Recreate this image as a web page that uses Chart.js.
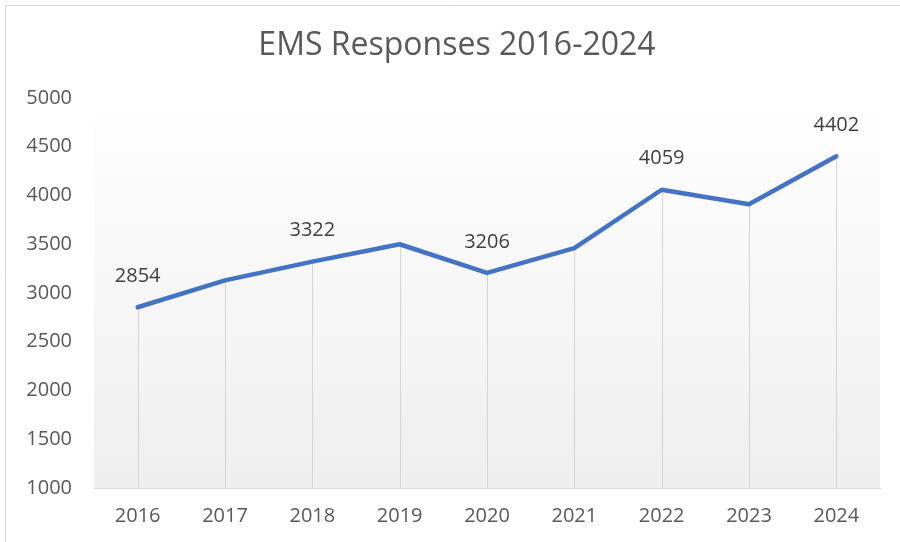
<!DOCTYPE html>
<html>
<head>
<meta charset="utf-8">
<script src="https://cdn.jsdelivr.net/npm/chart.js@4"></script>
<style>
  html, body { margin: 0; padding: 0; background: #fff; }
  #wrap { width: 900px; height: 542px; }
</style>
</head>
<body>
<div id="wrap"><canvas id="ems-chart" width="900" height="542"></canvas></div>
<script>
// chart data
const years = ['2016', '2017', '2018', '2019', '2020', '2021', '2022', '2023', '2024'];
const responses = [2854, 3130, 3322, 3500, 3206, 3460, 4059, 3910, 4402];
const labelledYears = ['2016', '2018', '2020', '2022', '2024'];
const yTicks = [1000, 1500, 2000, 2500, 3000, 3500, 4000, 4500, 5000];
const chartTitle = 'EMS Responses 2016-2024';

const textGray = '#595959';

// white page, thin frame, gradient plot area, title
const backdrop = {
    id: 'backdrop',
    beforeDraw(chart) {
        const ctx = chart.ctx;
        const a = chart.chartArea;
        ctx.save();
        ctx.fillStyle = '#ffffff';
        ctx.fillRect(0, 0, chart.width, chart.height);
        ctx.strokeStyle = '#d9d9d9';
        ctx.lineWidth = 1;
        ctx.beginPath();
        ctx.moveTo(5.5, chart.height);
        ctx.lineTo(5.5, 5.5);
        ctx.lineTo(chart.width, 5.5);
        ctx.stroke();
        const g = ctx.createLinearGradient(0, a.top, 0, a.bottom);
        g.addColorStop(0, '#ffffff');
        g.addColorStop(1, '#eeeeee');
        ctx.fillStyle = g;
        ctx.fillRect(a.left, a.top, a.right - a.left, a.bottom - a.top);

        ctx.font = '32px "Open Sans"';
        ctx.fillStyle = textGray;
        ctx.textAlign = 'center';
        ctx.textBaseline = 'middle';
        ctx.fillText(chartTitle, 457, 46);
        ctx.restore();
    }
};

// vertical drop lines from each point down to the axis
const dropLines = {
    id: 'dropLines',
    beforeDatasetsDraw(chart) {
        const ctx = chart.ctx;
        const meta = chart.getDatasetMeta(0);
        const bottom = chart.scales.y.bottom;
        ctx.save();
        ctx.strokeStyle = '#d4d4d4';
        ctx.lineWidth = 1;
        meta.data.forEach(pt => {
            const x = Math.round(pt.x) + 0.5;
            ctx.beginPath();
            ctx.moveTo(x, pt.y);
            ctx.lineTo(x, bottom);
            ctx.stroke();
        });
        ctx.restore();
    }
};

// value labels above selected points
const valueLabels = {
    id: 'valueLabels',
    afterDatasetsDraw(chart) {
        const ctx = chart.ctx;
        const meta = chart.getDatasetMeta(0);
        ctx.save();
        ctx.font = '20px "Open Sans"';
        ctx.fillStyle = '#404040';
        ctx.textAlign = 'center';
        ctx.textBaseline = 'middle';
        meta.data.forEach((pt, i) => {
            if (!labelledYears.includes(years[i])) return;
            ctx.fillText(String(responses[i]), pt.x, pt.y - 31);
        });
        ctx.restore();
    }
};

const chart = new Chart(document.getElementById('ems-chart').getContext('2d'), {
    type: 'line',
    data: {
        labels: years,
        datasets: [{
            label: 'EMS Responses',
            data: responses,
            borderColor: '#4472c4',
            borderWidth: 4.5,
            borderCapStyle: 'round',
            borderJoinStyle: 'round',
            pointRadius: 0,
            tension: 0,
            fill: false
        }]
    },
    options: {
        responsive: false,
        animation: false,
        layout: { padding: { left: 0, right: 20, top: 98, bottom: 0 } },
        plugins: {
            legend: { display: false },
            tooltip: { enabled: false },
            title: { display: false }
        },
        scales: {
            x: {
                offset: true,
                grid: { display: false, drawTicks: false },
                border: { display: true, color: '#d9d9d9', width: 1 },
                ticks: {
                    color: textGray,
                    font: { family: '"Open Sans"', size: 20 },
                    padding: 16,
                    maxRotation: 0
                },
                afterFit(scale) { scale.height = 54; }
            },
            y: {
                min: 1000,
                max: 5000,
                afterBuildTicks(scale) { scale.ticks = yTicks.map(v => ({ value: v })); },
                grid: { display: false, drawTicks: false },
                border: { display: false },
                ticks: {
                    color: textGray,
                    font: { family: '"Open Sans"', size: 20 },
                    padding: 22,
                    callback: v => String(v)
                },
                afterFit(scale) { scale.width = 94; }
            }
        }
    },
    plugins: [backdrop, dropLines, valueLabels]
});
</script>
</body>
</html>
